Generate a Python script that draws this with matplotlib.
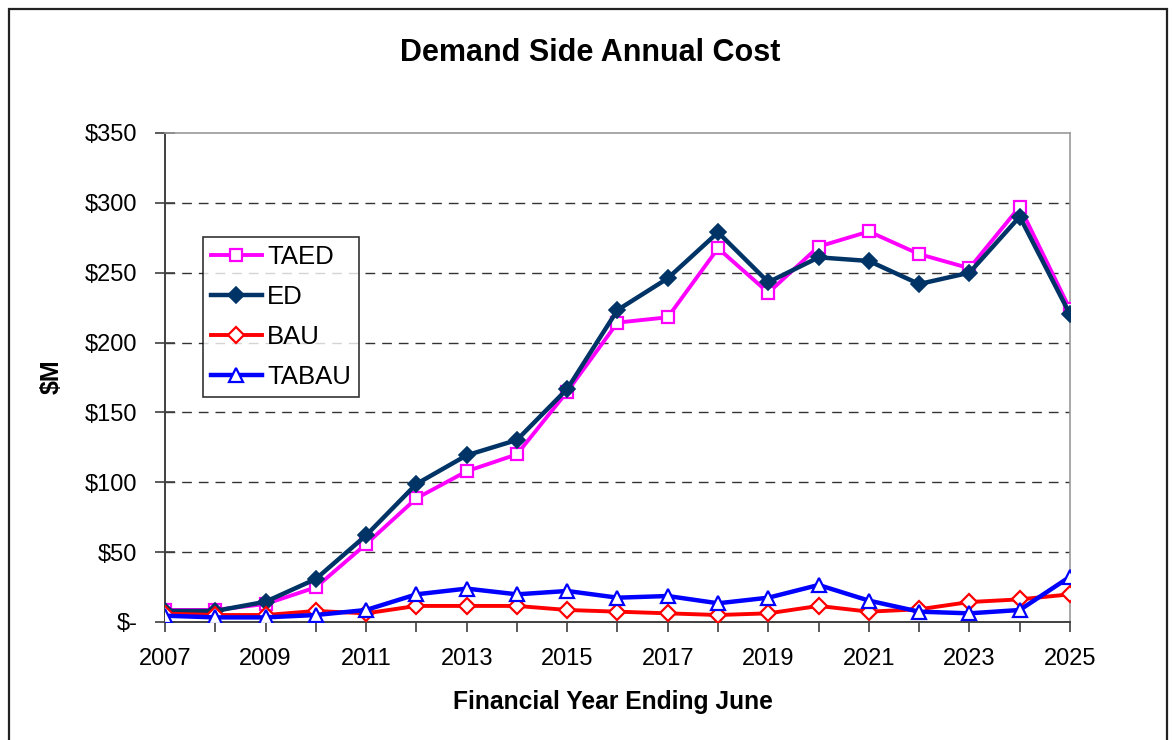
import matplotlib
matplotlib.use("Agg")
import matplotlib.pyplot as plt
from matplotlib.patches import Rectangle

plt.rcParams['font.family'] = ['Liberation Sans', 'DejaVu Sans']

years = list(range(2007, 2026))
taed = [8.6, 8.6, 12.9, 24.8, 55.8, 88.5, 107.9, 120.0, 164.9, 214.3,
        218.1, 267.5, 235.7, 268.7, 279.5, 263.3, 253.2, 297.3, 223.8]
ed = [7.9, 7.9, 14.5, 30.8, 62.0, 98.8, 119.3, 130.3, 166.8, 223.3,
      246.0, 278.9, 243.2, 261.0, 258.4, 241.9, 250.0, 290.1, 220.2]
bau = [6.0, 5.0, 5.0, 7.9, 6.2, 11.5, 11.5, 11.5, 8.6, 7.4,
       6.2, 5.0, 6.2, 11.5, 7.4, 9.1, 14.3, 16.2, 19.8]
tabau = [4.5, 3.3, 3.3, 5.0, 8.6, 19.8, 23.9, 19.8, 22.2, 17.4,
         18.6, 13.4, 17.4, 26.5, 15.3, 7.4, 6.2, 8.6, 32.4]
yticks = [0, 50, 100, 150, 200, 250, 300, 350]
ytick_labels = ['$-', '$50', '$100', '$150', '$200', '$250', '$300', '$350']
xtick_labels_years = list(range(2007, 2026, 2))

W, H = 1172, 740
fig = plt.figure(figsize=(W / 100, H / 100), dpi=100)
ax = fig.add_axes([165 / W, 1 - 622 / H, (1070 - 165) / W, (622 - 133) / H])

# outer chart frame
fig.patches.append(Rectangle((9.5 / W, -0.1), (1167 - 9.5) / W, 1.1 - 9.5 / H,
                             transform=fig.transFigure, fill=False,
                             edgecolor='#222222', linewidth=1.6))

ax.plot(years, taed, color='#FF00FF', lw=2.8, marker='s', ms=8.5,
        mfc='white', mec='#FF00FF', mew=1.6, label='TAED', zorder=3)
ax.plot(years, ed, color='#003366', lw=3.2, marker='D', ms=8,
        mfc='#003366', mec='#003366', mew=1.2, label='ED', zorder=4)
ax.plot(years, bau, color='#FF0000', lw=2.8, marker='D', ms=8,
        mfc='white', mec='#FF0000', mew=1.6, label='BAU', zorder=5)
ax.plot(years, tabau, color='#0000FF', lw=3.2, marker='^', ms=9.5,
        mfc='white', mec='#0000FF', mew=1.6, label='TABAU', zorder=6)

ax.set_xlim(2007, 2025)
ax.set_ylim(0, 350)
ax.set_yticks(yticks)
ax.set_yticklabels(ytick_labels)
ax.set_xticks(years)
ax.set_xticklabels([str(y) if y in xtick_labels_years else '' for y in years])

for v in yticks[1:-1]:
    ax.axhline(v, color='#333333', lw=1.0, ls=(0, (7, 5)), zorder=1)

for side in ['top', 'right']:
    ax.spines[side].set_color('#999999')
    ax.spines[side].set_linewidth(1.2)
for side in ['left', 'bottom']:
    ax.spines[side].set_color('#404040')
    ax.spines[side].set_linewidth(1.4)

ax.tick_params(axis='y', direction='inout', length=14, width=1.2,
               colors='#404040', labelcolor='black', labelsize=17, pad=13)
ax.tick_params(axis='x', direction='out', length=7, width=1.2,
               colors='#404040', labelcolor='black', labelsize=17, pad=12)

fig.text(590 / W, 1 - 53 / H, 'Demand Side Annual Cost', ha='center',
         va='center', fontsize=22, fontweight='bold')
fig.text(613 / W, 1 - 702 / H, 'Financial Year Ending June', ha='center',
         va='center', fontsize=17.7, fontweight='bold')
fig.text(52 / W, 1 - 377 / H, '$M', ha='center', va='center', rotation=90,
         fontsize=18, fontweight='bold')

leg = ax.legend(loc='upper left', bbox_to_anchor=((203 - 165) / (1070 - 165),
                                                  (622 - 237) / (622 - 133)),
                frameon=True, fancybox=False, edgecolor='black',
                fontsize=18.5, handlelength=2.0, handletextpad=0.2,
                labelspacing=0.63, borderpad=0.3, borderaxespad=0)
leg.get_frame().set_linewidth(1.2)
leg.set_zorder(10)

fig.savefig('out.png', dpi=100, facecolor='white')
